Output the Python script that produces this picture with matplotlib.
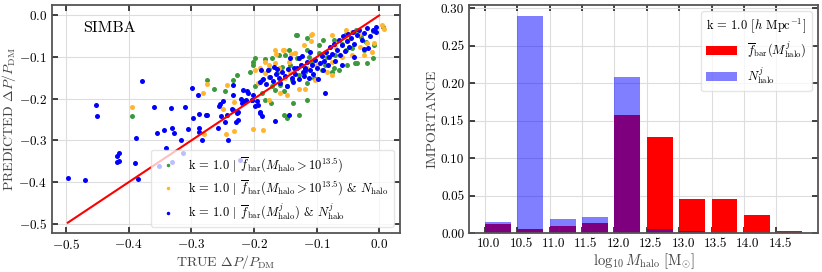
import numpy as np
import matplotlib
matplotlib.use("Agg")
import matplotlib.pyplot as plt
import matplotlib.transforms as mtransforms

plt.rcParams['font.family'] = 'serif'
plt.rcParams['font.serif'] = ['cmr10']
plt.rcParams['mathtext.fontset'] = 'cm'
plt.rcParams['axes.formatter.use_mathtext'] = True
plt.rcParams['axes.unicode_minus'] = True

# --- left panel: predicted vs true ---
green_pts = [
    (-0.394, -0.241), (-0.131, -0.046), (-0.072, -0.059), (-0.053, -0.044), (-0.037, -0.036),
    (-0.029, -0.052), (-0.021, -0.063), (0.006, -0.028), (-0.008, -0.071), (-0.024, -0.082),
    (-0.043, -0.079), (-0.053, -0.083), (-0.070, -0.095), (-0.083, -0.099), (-0.096, -0.091),
    (-0.107, -0.115), (-0.086, -0.119), (-0.072, -0.127), (-0.051, -0.119), (-0.035, -0.115),
    (-0.019, -0.115), (-0.010, -0.103), (-0.118, -0.135), (-0.104, -0.151), (-0.115, -0.162),
    (-0.128, -0.143), (-0.139, -0.155), (-0.147, -0.170), (-0.158, -0.166), (-0.166, -0.178),
    (-0.152, -0.182), (-0.163, -0.139), (-0.176, -0.147), (-0.187, -0.155), (-0.198, -0.170),
    (-0.187, -0.186), (-0.171, -0.170), (-0.096, -0.071), (-0.112, -0.099), (-0.131, -0.103),
    (-0.142, -0.119), (-0.155, -0.123), (-0.144, -0.083), (-0.115, -0.083), (-0.137, -0.210),
    (-0.128, -0.240), (-0.115, -0.202), (-0.148, -0.246), (-0.152, -0.239), (-0.173, -0.210),
    (-0.182, -0.202), (-0.201, -0.119), (-0.202, -0.111), (-0.182, -0.104), (-0.171, -0.103),
    (-0.160, -0.096), (-0.151, -0.095), (-0.227, -0.143), (-0.233, -0.155), (-0.246, -0.182),
    (-0.264, -0.177), (-0.275, -0.155), (-0.115, -0.055), (-0.133, -0.046), (-0.198, -0.103),
    (-0.206, -0.135), (-0.065, -0.131), (-0.076, -0.135), (-0.092, -0.131), (-0.039, -0.115),
    (-0.010, -0.038), (-0.060, -0.068), (-0.090, -0.060), (-0.125, -0.120), (-0.176, -0.128),
]
orange_pts = [
    (0.008, -0.032), (0.005, -0.024), (-0.011, -0.087), (-0.019, -0.067), (-0.032, -0.044),
    (-0.043, -0.040), (-0.053, -0.036), (-0.075, -0.048), (-0.107, -0.044), (-0.120, -0.071),
    (-0.134, -0.091), (-0.152, -0.083), (-0.166, -0.115), (-0.182, -0.111), (-0.198, -0.131),
    (-0.166, -0.083), (-0.128, -0.177), (-0.118, -0.177), (-0.083, -0.135), (-0.075, -0.111),
    (-0.059, -0.099), (-0.043, -0.095), (-0.024, -0.095), (-0.008, -0.067), (-0.070, -0.075),
    (-0.088, -0.091), (-0.099, -0.119), (-0.115, -0.127), (-0.142, -0.135), (-0.150, -0.151),
    (-0.160, -0.127), (-0.176, -0.119), (-0.190, -0.127), (-0.182, -0.139), (-0.193, -0.162),
    (-0.147, -0.190), (-0.158, -0.186), (-0.176, -0.202), (-0.186, -0.274), (-0.202, -0.273),
    (-0.232, -0.277), (-0.245, -0.284), (-0.280, -0.284), (-0.249, -0.224), (-0.232, -0.208),
    (-0.243, -0.166), (-0.275, -0.165), (-0.282, -0.185), (-0.394, -0.220), (-0.144, -0.111),
    (-0.102, -0.155), (-0.075, -0.143), (-0.109, -0.046), (-0.109, -0.062), (-0.164, -0.093),
    (-0.154, -0.082), (-0.141, -0.093), (-0.135, -0.090), (-0.030, -0.075), (-0.050, -0.060),
]
blue_pts = [
    (-0.379, -0.158), (-0.452, -0.215), (-0.451, -0.241), (-0.359, -0.219), (-0.355, -0.281),
    (-0.388, -0.295), (-0.415, -0.330), (-0.418, -0.336), (-0.416, -0.348), (-0.419, -0.352),
    (-0.390, -0.353), (-0.497, -0.391), (-0.470, -0.395), (-0.385, -0.393), (-0.352, -0.362),
    (-0.330, -0.351), (-0.222, -0.346),
    (-0.332, -0.223), (-0.299, -0.174), (-0.310, -0.220), (-0.298, -0.246), (-0.344, -0.275),
    (-0.330, -0.271), (-0.327, -0.283), (-0.341, -0.318), (-0.317, -0.298), (-0.313, -0.330),
    (-0.305, -0.273), (-0.288, -0.270), (-0.288, -0.279), (-0.288, -0.236), (-0.277, -0.238),
    (-0.275, -0.240), (-0.283, -0.299), (-0.290, -0.192), (-0.256, -0.217), (-0.254, -0.213),
    (-0.253, -0.241), (-0.246, -0.256), (-0.243, -0.239), (-0.242, -0.300), (-0.249, -0.206),
    (-0.257, -0.270), (-0.233, -0.167), (-0.233, -0.190), (-0.235, -0.224), (-0.233, -0.228),
    (-0.227, -0.235), (-0.226, -0.231), (-0.228, -0.256), (-0.226, -0.252), (-0.217, -0.178),
    (-0.211, -0.181), (-0.220, -0.200), (-0.213, -0.204), (-0.203, -0.203), (-0.201, -0.191),
    (-0.087, -0.185), (-0.166, -0.254), (-0.144, -0.238), (-0.190, -0.231), (-0.187, -0.241),
    (-0.209, -0.186), (-0.203, -0.202), (-0.195, -0.206), (-0.198, -0.218), (-0.193, -0.214),
    (-0.219, -0.210), (-0.216, -0.206), (-0.190, -0.234),
    (-0.190, -0.160), (-0.185, -0.152), (-0.180, -0.165), (-0.175, -0.148), (-0.170, -0.158),
    (-0.165, -0.140), (-0.160, -0.150), (-0.158, -0.162), (-0.155, -0.135), (-0.150, -0.145),
    (-0.148, -0.170), (-0.145, -0.128), (-0.140, -0.150), (-0.138, -0.160), (-0.135, -0.140),
    (-0.132, -0.125), (-0.128, -0.152), (-0.125, -0.118), (-0.122, -0.135), (-0.120, -0.145),
    (-0.118, -0.125), (-0.115, -0.112), (-0.112, -0.150), (-0.110, -0.130), (-0.108, -0.118),
    (-0.105, -0.140), (-0.102, -0.108), (-0.100, -0.125), (-0.098, -0.152), (-0.095, -0.115),
    (-0.092, -0.098), (-0.090, -0.130), (-0.088, -0.110), (-0.085, -0.088), (-0.082, -0.120),
    (-0.080, -0.100), (-0.078, -0.075), (-0.075, -0.092), (-0.072, -0.068), (-0.070, -0.110),
    (-0.068, -0.082), (-0.065, -0.060), (-0.062, -0.095), (-0.060, -0.072), (-0.058, -0.050),
    (-0.055, -0.085), (-0.052, -0.062), (-0.050, -0.045), (-0.048, -0.075), (-0.045, -0.055),
    (-0.042, -0.040), (-0.040, -0.068), (-0.035, -0.048), (-0.032, -0.035), (-0.028, -0.058),
    (-0.025, -0.042), (-0.020, -0.030), (-0.018, -0.078), (-0.015, -0.050), (-0.010, -0.035),
    (-0.005, -0.028), (-0.005, -0.040), (-0.025, -0.080), (-0.040, -0.100), (-0.060, -0.118),
    (-0.168, -0.124), (-0.163, -0.128), (-0.177, -0.131), (-0.188, -0.131), (-0.142, -0.103),
    (-0.128, -0.103), (-0.123, -0.097), (-0.110, -0.087), (-0.136, -0.125), (-0.118, -0.131),
]
fit_line = [-0.497, 0.0]

# --- right panel: importance per halo-mass bin ---
mass_bins = [10.0, 10.5, 11.0, 11.5, 12.0, 12.5, 13.0, 13.5, 14.0, 14.5]
imp_fbar = [0.012, 0.005, 0.010, 0.014, 0.158, 0.128, 0.045, 0.045, 0.024, 0.002]
imp_nhalo = [0.015, 0.290, 0.019, 0.021, 0.208, 0.005, 0.002, 0.0, 0.0, 0.0]

fig = plt.figure(figsize=(8.22, 2.72), dpi=100)
ax1 = fig.add_axes([0.0633, 0.1434, 0.4234, 0.838])
ax2 = fig.add_axes([0.5706, 0.1434, 0.4246, 0.838])

for ax in (ax1, ax2):
    ax.tick_params(direction='in', top=True, right=True, labelsize=9.5, length=4, width=1.2, color='#222222')
    for sp in ax.spines.values():
        sp.set_color('#555555')
        sp.set_linewidth(1.3)
    ax.grid(True, color='#dddddd', linewidth=0.8)
    ax.set_axisbelow(True)

gx, gy = zip(*green_pts)
ox, oy = zip(*orange_pts)
bx, by = zip(*blue_pts)
ax1.scatter(gx, gy, s=13, color='#3c9a3c', lw=0,
            label=r'k = 1.0 $|$ $\overline{f}_{\rm bar}(M_{\rm halo} > 10^{13.5})$')
ax1.scatter(ox, oy, s=13, color='#ffb52e', lw=0,
            label=r'k = 1.0 $|$ $\overline{f}_{\rm bar}(M_{\rm halo} > 10^{13.5})$ & $N_{\rm halo}$')
ax1.scatter(bx, by, s=13, color='blue', lw=0,
            label=r'k = 1.0 $|$ $\overline{f}_{\rm bar}(M_{\rm halo}^j)$ & $N_{\rm halo}^j$')
ax1.plot(fit_line, fit_line, color='red', lw=1.5)
ax1.set_xticks([-0.5, -0.4, -0.3, -0.2, -0.1, 0.0])
ax1.set_yticks([-0.5, -0.4, -0.3, -0.2, -0.1, 0.0])
ax1.set_xlabel(r'TRUE $\Delta P/P_{\rm DM}$', fontsize=10, labelpad=1, color='#444444')
ax1.set_ylabel(r'PREDICTED $\Delta P/P_{\rm DM}$', fontsize=10, labelpad=0, color='#444444')
ax1.text(0.09, 0.9, 'SIMBA', transform=ax1.transAxes, fontsize=11.5, va='center')
ax1.legend(loc='lower right', fontsize=9, markerscale=0.7, framealpha=0.75,
           handletextpad=0.6, borderpad=0.4, labelspacing=0.35, edgecolor='#dddddd')

ax2.bar(mass_bins, imp_fbar, width=0.4, align='edge', color='red', lw=0,
        label=r'$\overline{f}_{\rm bar}(M_{\rm halo}^j)$')
ax2.bar(mass_bins, imp_nhalo, width=0.4, align='edge', color='blue', alpha=0.5, lw=0,
        label=r'$N_{\rm halo}^j$')
ax2.set_xticks(mass_bins)
ax2.set_xticklabels(['%.1f' % m for m in mass_bins])
shift = mtransforms.ScaledTranslation(4 / 100, 0, fig.dpi_scale_trans)
for lab in ax2.get_xticklabels():
    lab.set_transform(lab.get_transform() + shift)
ax2.set_yticks([0.0, 0.05, 0.10, 0.15, 0.20, 0.25, 0.30])
ax2.set_yticklabels(['0.00', '0.05', '0.10', '0.15', '0.20', '0.25', '0.30'])
ax2.set_xlabel(r'$\log_{10}M_{\rm halo}\ [{\rm M}_{\odot}]$', fontsize=10.5, labelpad=1, color='#444444')
ax2.set_ylabel('IMPORTANCE', fontsize=10, labelpad=2, color='#444444')
ax2.legend(loc='upper right', title=r'k = 1.0 [$h$ Mpc$^{-1}$]', fontsize=9, title_fontsize=9,
           framealpha=0.75, edgecolor='#dddddd', handlelength=2.5, borderpad=0.4, labelspacing=0.4)

fig.savefig('out.png', dpi=100)
